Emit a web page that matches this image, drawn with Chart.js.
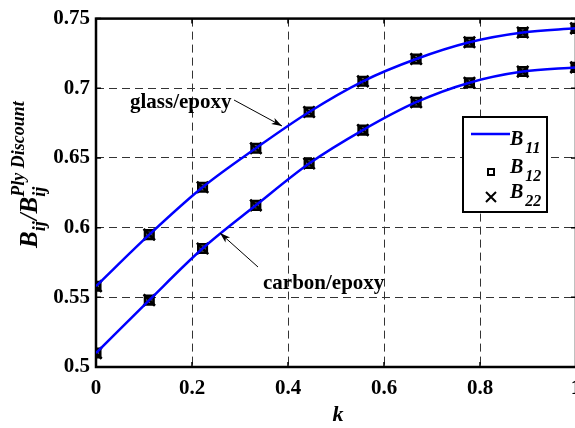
<!DOCTYPE html>
<html>
<head>
<meta charset="utf-8">
<script src="https://cdn.jsdelivr.net/npm/chart.js@4.4.1/dist/chart.umd.min.js"></script>
<style>
  html, body { margin: 0; padding: 0; background: #fff; overflow: hidden; }
  canvas { display: block; }
</style>
</head>
<body>
<canvas id="chart" width="600" height="428"></canvas>
<script>
// data
const kValues = [0, 0.111, 0.222, 0.333, 0.444, 0.556, 0.667, 0.778, 0.889, 1];
const glassB = [0.558, 0.595, 0.629, 0.657, 0.683, 0.705, 0.721, 0.733, 0.740, 0.743];
const carbonB = [0.510, 0.548, 0.585, 0.616, 0.646, 0.670, 0.690, 0.704, 0.712, 0.715];
const xTicks = [0, 0.2, 0.4, 0.6, 0.8, 1];
const yTicks = [0.5, 0.55, 0.6, 0.65, 0.7, 0.75];

const SERIF = '"Liberation Serif", "Times New Roman", serif';
const BLUE = '#0000ff';

function pts(ys) {
  return kValues.map((k, i) => ({ x: k, y: ys[i] }));
}

function lineSet(ys) {
  return {
    data: pts(ys),
    borderColor: BLUE,
    borderWidth: 2.5,
    pointRadius: 0,
    cubicInterpolationMode: 'monotone',
    fill: false
  };
}

function markerSet(ys, style, r, bg) {
  return {
    data: pts(ys),
    showLine: false,
    pointStyle: style,
    pointRadius: r,
    pointBorderColor: '#000',
    pointBackgroundColor: bg,
    pointBorderWidth: 2.6
  };
}

// draw text pieces one after another, each with its own font and baseline shift
function drawPieces(ctx, pieces, x, y) {
  let cx = x;
  pieces.forEach(p => {
    ctx.font = p.font;
    ctx.fillText(p.text, cx + (p.dx || 0), y + (p.dy || 0));
    cx += ctx.measureText(p.text).width + (p.dx || 0);
  });
}

const extras = {
  id: 'extras',
  beforeDatasetsDraw(chart) {
    const ctx = chart.ctx;
    const a = chart.chartArea;
    const xs = chart.scales.x, ys = chart.scales.y;
    ctx.save();
    ctx.strokeStyle = '#000';
    ctx.lineWidth = 1.5;
    // little inward tick marks
    xTicks.forEach(v => {
      const px = xs.getPixelForValue(v);
      ctx.beginPath();
      ctx.moveTo(px, a.bottom); ctx.lineTo(px, a.bottom - 5);
      ctx.moveTo(px, a.top); ctx.lineTo(px, a.top + 5);
      ctx.stroke();
    });
    yTicks.forEach(v => {
      const py = ys.getPixelForValue(v);
      ctx.beginPath();
      ctx.moveTo(a.left, py); ctx.lineTo(a.left + 5, py);
      ctx.moveTo(a.right, py); ctx.lineTo(a.right - 5, py);
      ctx.stroke();
    });
    // frame
    ctx.lineWidth = 2.5;
    ctx.strokeRect(a.left, a.top, a.right - a.left, a.bottom - a.top);
    ctx.restore();
  },
  afterDraw(chart) {
    const ctx = chart.ctx;
    ctx.save();
    ctx.fillStyle = '#000';
    ctx.textBaseline = 'alphabetic';

    // x axis title
    ctx.font = 'italic bold 22px ' + SERIF;
    ctx.textAlign = 'center';
    ctx.fillText('k', 338, 421);
    ctx.textAlign = 'left';

    // y axis title, rotated
    ctx.save();
    ctx.translate(37, 248);
    ctx.rotate(-Math.PI / 2);
    const big = 'italic bold 25px ' + SERIF;
    const small = 'italic bold 18px ' + SERIF;
    ctx.font = big;
    let x = 0;
    ctx.fillText('B', x, 0); x += ctx.measureText('B').width;
    ctx.font = small;
    ctx.fillText('ij', x, 8); x += ctx.measureText('ij').width + 1;
    ctx.font = big;
    ctx.fillText('/', x, 0); x += ctx.measureText('/').width;
    ctx.fillText('B', x, 0); x += ctx.measureText('B').width;
    ctx.font = small;
    ctx.fillText('ij', x, 8);
    ctx.fillText('Ply Discount', x, -13);
    ctx.restore();

    // annotations with arrows
    ctx.font = 'bold 21px ' + SERIF;
    ctx.fillText('glass/epoxy', 130, 108);
    ctx.fillText('carbon/epoxy', 263, 289);
    arrow(ctx, 234, 100, 282, 126);
    arrow(ctx, 258, 267, 220, 233);

    // legend
    const lx = 463, ly = 117, lw = 84, lh = 95;
    ctx.fillStyle = '#fff';
    ctx.fillRect(lx, ly, lw, lh);
    ctx.strokeStyle = '#000';
    ctx.lineWidth = 2;
    ctx.strokeRect(lx, ly, lw, lh);
    ctx.strokeStyle = BLUE;
    ctx.lineWidth = 2.5;
    ctx.beginPath();
    ctx.moveTo(471, 134); ctx.lineTo(510, 134);
    ctx.stroke();
    ctx.strokeStyle = '#000';
    ctx.lineWidth = 2;
    ctx.strokeRect(488, 169, 6, 6);
    ctx.beginPath();
    ctx.moveTo(486, 192); ctx.lineTo(496, 202);
    ctx.moveTo(496, 192); ctx.lineTo(486, 202);
    ctx.stroke();
    ctx.fillStyle = '#000';
    const lb = 'italic bold 20px ' + SERIF;
    const ls = 'italic bold 16px ' + SERIF;
    [['11', 145], ['12', 173], ['22', 198]].forEach(([sub, by]) => {
      drawPieces(ctx, [
        { text: 'B', font: lb },
        { text: sub, font: ls, dx: 2, dy: 8 }
      ], 510, by);
    });
    ctx.restore();
  }
};

function arrow(ctx, x1, y1, x2, y2) {
  ctx.save();
  ctx.strokeStyle = '#000';
  ctx.fillStyle = '#000';
  ctx.lineWidth = 1;
  ctx.beginPath();
  ctx.moveTo(x1, y1); ctx.lineTo(x2, y2);
  ctx.stroke();
  const ang = Math.atan2(y2 - y1, x2 - x1);
  const len = 11, half = 0.32;
  ctx.beginPath();
  ctx.moveTo(x2, y2);
  ctx.lineTo(x2 - len * Math.cos(ang - half), y2 - len * Math.sin(ang - half));
  ctx.lineTo(x2 - len * 0.7 * Math.cos(ang), y2 - len * 0.7 * Math.sin(ang));
  ctx.lineTo(x2 - len * Math.cos(ang + half), y2 - len * Math.sin(ang + half));
  ctx.closePath();
  ctx.fill();
  ctx.restore();
}

new Chart(document.getElementById('chart'), {
  type: 'line',
  data: {
    datasets: [
      lineSet(glassB),
      lineSet(carbonB),
      markerSet(glassB, 'rect', 6, 'rgba(0,0,0,0.55)'),
      markerSet(carbonB, 'rect', 6, 'rgba(0,0,0,0.55)'),
      markerSet(glassB, 'crossRot', 8, '#000'),
      markerSet(carbonB, 'crossRot', 8, '#000')
    ]
  },
  options: {
    responsive: false,
    animation: false,
    layout: { padding: { left: 0, top: 11, right: 24, bottom: 0 } },
    plugins: { legend: { display: false }, tooltip: { enabled: false } },
    scales: {
      x: {
        type: 'linear',
        min: 0, max: 1,
        afterFit(scale) { scale.height = 61; },
        afterBuildTicks(scale) { scale.ticks = xTicks.map(v => ({ value: v })); },
        ticks: {
          color: '#000',
          padding: 9,
          font: { family: SERIF, size: 21, weight: 'bold' },
          callback: v => String(v)
        },
        grid: { color: '#333', lineWidth: 1, drawTicks: false },
        border: { display: false, dash: [8, 5] }
      },
      y: {
        min: 0.5, max: 0.75,
        afterFit(scale) { scale.width = 96; },
        afterBuildTicks(scale) { scale.ticks = yTicks.map(v => ({ value: v })); },
        ticks: {
          color: '#000',
          padding: 6,
          font: { family: SERIF, size: 21, weight: 'bold' },
          callback: v => String(v)
        },
        grid: { color: '#333', lineWidth: 1, drawTicks: false },
        border: { display: false, dash: [8, 5] }
      }
    }
  },
  plugins: [extras]
});
</script>
</body>
</html>
